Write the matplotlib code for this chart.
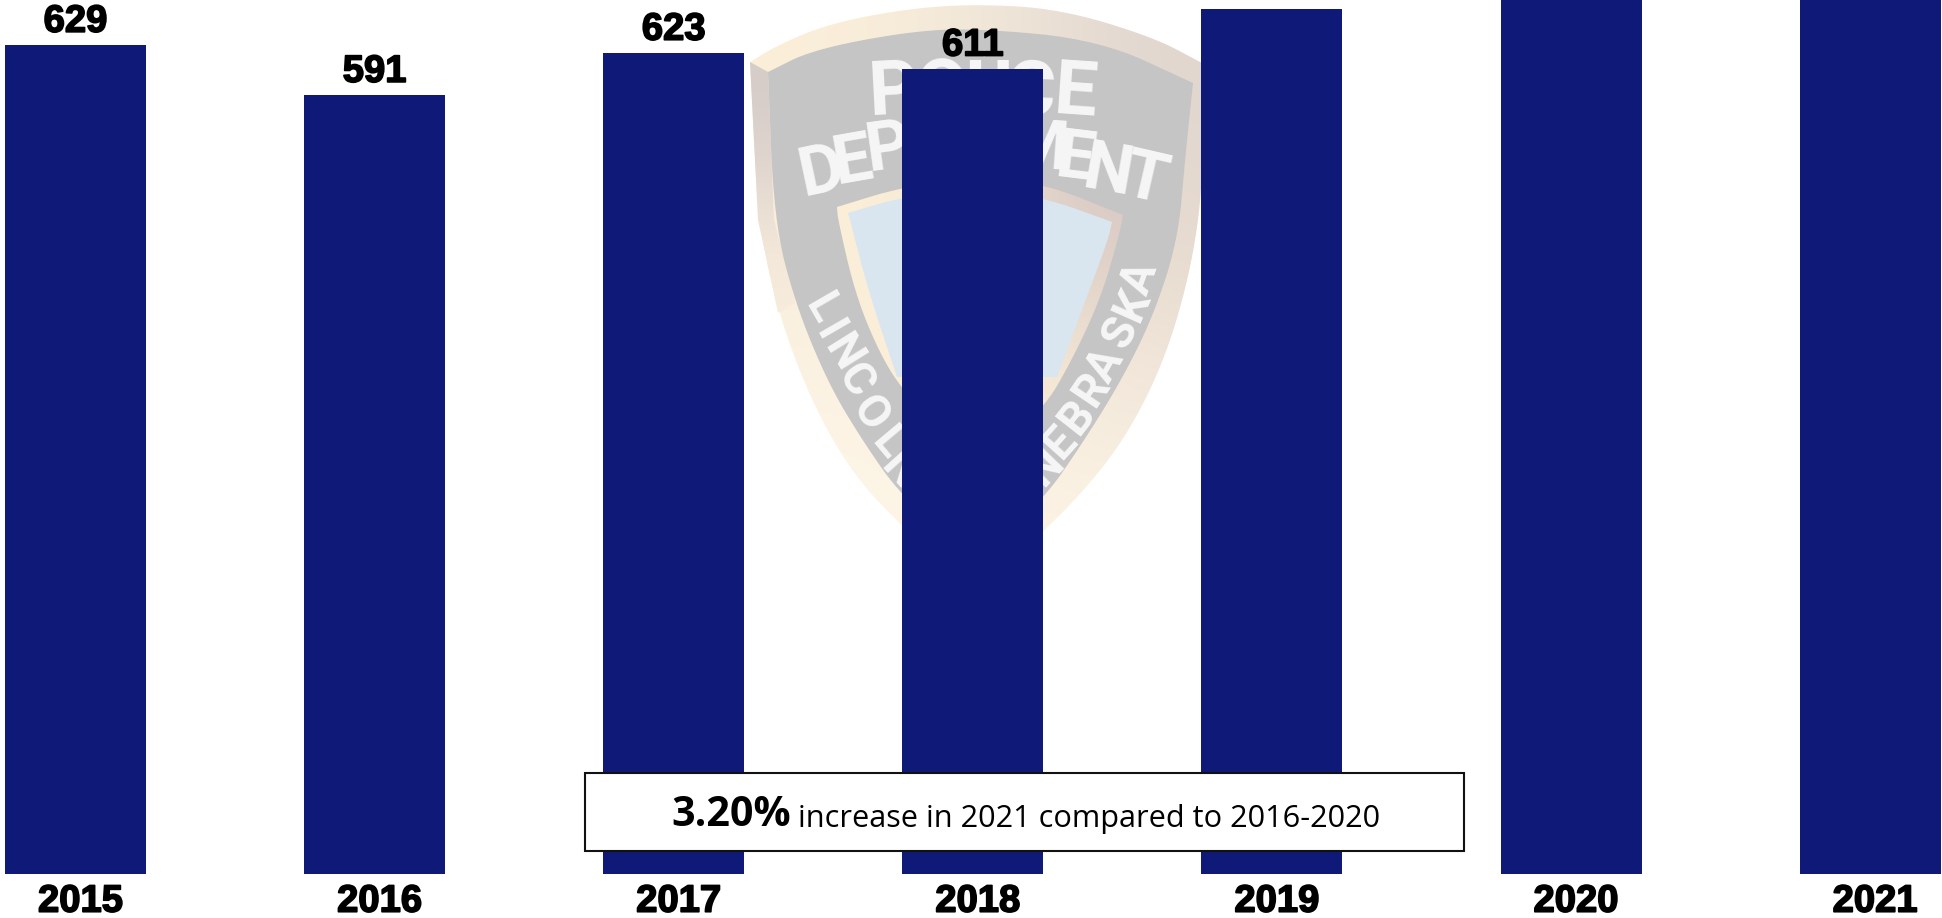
import matplotlib
matplotlib.use('Agg')
import matplotlib.pyplot as plt
import matplotlib.patheffects as pe
from matplotlib.colors import to_rgb
from matplotlib.patches import Polygon, Rectangle
from matplotlib.transforms import ScaledTranslation
import numpy as np

years = ['2015', '2016', '2017', '2018', '2019', '2020', '2021']
# 2019-2021 run off the top of the picture, so those three are estimates
values = [629, 591, 623, 611, 656, 680, 690]
bar_color = '#0f1a78'

W, H = 1942, 918
dpi = 100
step = 299.1
bold = [pe.withStroke(linewidth=1.2, foreground='black')]


def smooth(pts, n=3):
    # corner cutting, keeps both ends of the side
    pts = np.array(pts, float)
    for _ in range(n):
        q = pts[:-1] * 0.75 + pts[1:] * 0.25
        r = pts[:-1] * 0.25 + pts[1:] * 0.75
        mid = np.empty((2 * len(q), 2))
        mid[0::2] = q
        mid[1::2] = r
        pts = np.vstack([pts[0], mid, pts[-1]])
    return pts


def outline(*sides):
    return np.vstack([smooth(s) for s in sides])


def shaded(axis, poly, grid, extent, z=1):
    # fades the hand-picked colours across a badge shape
    rgb = np.array([[to_rgb(c) for c in row] for row in grid])
    im = axis.imshow(rgb, extent=extent, interpolation='bicubic', aspect='auto', zorder=z)
    im.set_clip_path(Polygon(poly, transform=axis.transData))


fig = plt.figure(figsize=(W / dpi, H / dpi), dpi=dpi, facecolor='white')

# full-figure pixel axes for the watermark
bg = fig.add_axes([0, 0, 1, 1], zorder=0)

rim = outline([(750, 62), (778, 45), (828, 24), (905, 9), (975, 4), (1060, 9), (1153, 37), (1202, 63)],
              [(1202, 63), (1204, 150), (1197, 240), (1173, 337), (1140, 413), (1100, 473), (1043, 533), (975, 590)],
              [(975, 590), (902, 527), (852, 473), (812, 403), (778, 313), (758, 220), (750, 62)])
gray = outline([(768, 72), (812, 50), (905, 32), (975, 28), (1100, 40), (1193, 83)],
               [(1193, 83), (1185, 160), (1178, 240), (1153, 317), (1120, 383), (1080, 447), (1043, 500), (975, 560)],
               [(975, 560), (902, 497), (862, 440), (828, 383), (795, 303), (774, 220), (768, 72)])
inner_rim = outline([(837, 207), (902, 187), (975, 178), (1043, 183), (1123, 215)],
                    [(1123, 215), (1118, 240), (1100, 300), (1072, 360), (1043, 410), (975, 470)],
                    [(975, 470), (902, 390), (878, 350), (855, 293), (838, 220), (837, 207)])
blue = outline([(848, 213), (902, 197), (975, 190), (1043, 197), (1112, 222)],
               [(1112, 222), (1108, 240), (1083, 307), (1057, 377)],
               [(1057, 377), (897, 377)],
               [(897, 377), (868, 290), (850, 220), (848, 213)])
bevel = [(750, 62), (768, 72), (774, 220), (795, 303), (778, 313), (758, 220)]

shaded(bg, rim, [['#fbefd9', '#f3e9da', '#e0d6cf'],
                 ['#f9eedd', '#fbf1df', '#e8dbcf'],
                 ['#fef7ea', '#fdf3e2', '#fcf4e6']], (749, 1205, 590, 4), 1)
shaded(bg, bevel, [['#d6ccc8'], ['#e6dbd2'], ['#f8eddc']], (749, 800, 320, 62), 2)
bg.add_patch(Polygon(gray, color='#c5c5c5', lw=0, zorder=3))
shaded(bg, inner_rim, [['#fbefd9', '#efe2d3', '#d9cbc5'],
                       ['#fbefd9', '#f7ead7', '#e8dacd'],
                       ['#fbf0da', '#fbf0da', '#f8ecd8']], (835, 1125, 470, 178), 4)
bg.add_patch(Polygon(blue, color='#d9e6f0', lw=0, zorder=5))
bg.set_xlim(0, W)
bg.set_ylim(H, 0)
bg.axis('off')

badge_letters = [
    ('P', 893, 93, 3, 55), ('O', 942, 93, 2, 55), ('L', 985, 93, 0, 55),
    ('I', 1003, 93, 0, 55), ('C', 1030, 94, -2, 55), ('E', 1075, 94, -4, 55),
    ('D', 822, 173, 12, 50), ('E', 853, 162, 10, 50), ('P', 888, 150, 8, 50),
    ('M', 1038, 150, -4, 50), ('E', 1075, 160, -7, 50), ('N', 1108, 173, -10, 50),
    ('T', 1146, 181, -13, 50),
    ('L', 822, 308, -60, 33), ('I', 829, 331, -60, 33), ('N', 843, 353, -58, 33),
    ('C', 855, 380, -56, 33), ('O', 870, 413, -54, 33), ('L', 888, 443, -50, 33),
    ('N', 900, 470, -48, 33),
    ('N', 1045, 467, 46, 33), ('E', 1060, 443, 48, 33), ('B', 1077, 417, 52, 33),
    ('R', 1092, 390, 56, 33), ('A', 1105, 365, 60, 33), ('S', 1120, 333, 63, 33),
    ('K', 1132, 305, 66, 33), ('A', 1140, 278, 70, 33),
]
for ch, x, y, rot, size in badge_letters:
    bg.text(x, y, ch, color='#f6f6f6', fontsize=size, family='Roboto', fontweight='bold',
            rotation=rot, rotation_mode='anchor', ha='center', va='center', zorder=6)

# the chart itself fills the picture down to the year labels
ax = fig.add_axes([0, 44 / H, 1, 874 / H], zorder=1)
ax.patch.set_alpha(0)
pos = list(range(len(years)))
ax.bar(pos, values, width=141 / step, color=bar_color)
ax.set_xlim(-75.5 / step, (W - 75.5) / step)
ax.set_ylim(0, 874 / 1.318)
for s in ax.spines.values():
    s.set_visible(False)
ax.set_yticks([])
ax.set_xticks(pos)
ax.set_xticklabels(years, fontsize=27.5, family='Liberation Sans', fontweight='bold', path_effects=bold)
ax.tick_params(axis='x', length=0, pad=7)
nudge = ScaledTranslation(5 / dpi, 0, fig.dpi_scale_trans)
for lab in ax.get_xticklabels():
    lab.set_transform(lab.get_transform() + nudge)

for x, v in zip(pos, values):
    if v < 630:
        ax.annotate(str(v), (x, v), xytext=(0, 3.7), textcoords='offset points', ha='center', va='bottom',
                    fontsize=27.5, family='Liberation Sans', fontweight='bold', path_effects=bold)

# callout box over the bars
top = fig.add_axes([0, 0, 1, 1], zorder=2)
top.set_xlim(0, W)
top.set_ylim(H, 0)
top.axis('off')
top.add_patch(Rectangle((585, 772.5), 879, 78.5, facecolor='white', edgecolor='#111111', lw=1.5))
top.text(671, 816, '3.20%', fontsize=29.7, family='Open Sans', fontweight='bold', ha='left', va='center')
top.text(798, 819, 'increase in 2021 compared to 2016-2020', fontsize=22.1, family='Open Sans',
         ha='left', va='center')

fig.savefig('out.png', dpi=dpi)
